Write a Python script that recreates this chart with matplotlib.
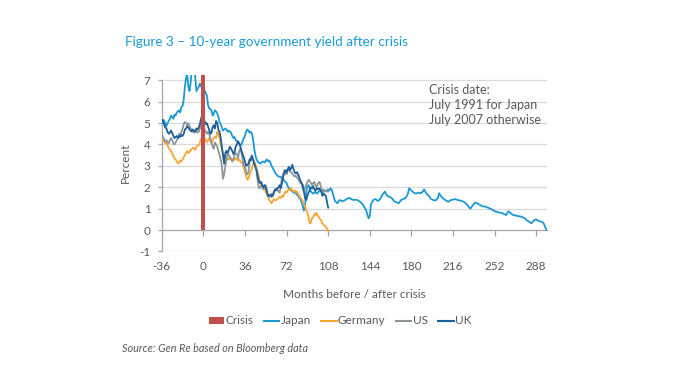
import matplotlib
matplotlib.use("Agg")
import matplotlib.pyplot as plt
from matplotlib.patches import Patch
from matplotlib.lines import Line2D

plt.rcParams['font.family'] = ['Lato', 'DejaVu Sans']

# ---------------- data (months relative to crisis, yield %) ----------------
crisis_month = [0]
crisis_value = [8.0]

japan_months = list(range(-36, 113)) + [113, 114, 115, 116, 117, 118, 120, 122, 124, 126, 128, 130, 132, 134, 136,
    138, 140, 141, 142, 143, 144, 145, 147, 149, 151, 153, 155, 157, 159, 161, 163, 165, 167, 169, 171, 173, 175,
    177, 178, 180, 182, 184, 186, 188, 190, 191, 193, 195, 197, 199, 201, 203, 204, 206, 208, 210, 212, 214, 216,
    218, 220, 222, 224, 226, 228, 230, 231, 233, 235, 237, 240, 242, 244, 246, 248, 250, 252, 254, 256, 258, 260,
    262, 264, 266, 268, 270, 272, 274, 276, 278, 280, 282, 284, 286, 288, 290, 292, 294, 295, 296, 297]
japan_values = [
    5.0, 5.15, 5.1, 5.0, 4.85, 5.0, 5.1, 5.2, 5.35, 5.3, 5.2, 5.4, 5.35, 5.5, 5.55, 5.6, 5.5, 5.75, 5.8, 6.1,
    6.7, 7.1, 7.3, 6.7, 6.5, 6.9, 7.5, 8.0, 7.8, 7.1, 6.5, 6.6, 6.7, 6.85, 6.7, 6.8,
    6.7, 6.55, 6.4, 6.3, 5.85, 5.7, 5.65, 5.6, 5.35, 5.45, 5.6, 5.55, 5.45, 5.3, 5.05,
    4.95, 4.8, 4.65, 4.7, 4.75, 4.7, 4.6, 4.65, 4.6, 4.55, 4.4, 4.3, 4.35, 4.2, 4.15, 4.1, 4.05, 3.95, 4.0,
    4.15, 4.3, 4.4, 4.6, 4.7, 4.65, 4.55, 4.6, 4.5, 4.25, 3.8, 3.5, 3.3, 3.2, 3.15, 3.1, 3.15, 3.2, 3.2, 3.15,
    3.25, 3.3, 3.2, 3.25, 3.15, 3.0, 2.9, 2.8, 2.7, 2.6, 2.55, 2.5, 2.5, 2.45, 2.5, 2.4, 2.3, 2.25, 2.2, 2.05,
    1.95, 1.9, 1.85, 1.8, 1.75, 1.75, 1.7, 1.65, 1.6, 1.5, 1.45, 1.3, 1.1, 0.9, 1.2, 1.75, 2.05, 2.1,
    1.95, 1.8, 1.75, 1.7, 1.75, 1.8, 1.7, 1.75, 1.8, 1.85, 1.8, 1.75, 1.8, 1.85, 1.8, 1.85, 1.9, 1.85, 1.95,
    1.9, 1.7,
    1.5, 1.35, 1.3, 1.25, 1.35, 1.4, 1.35, 1.38, 1.45, 1.5, 1.45, 1.4, 1.42, 1.38, 1.3,
    1.2, 1.0, 0.9, 0.7, 0.55, 0.65, 1.2, 1.4, 1.45, 1.35, 1.45, 1.65, 1.8, 1.6, 1.55, 1.5, 1.35, 1.3, 1.25, 1.4,
    1.45, 1.5, 1.7, 1.95, 1.85, 1.75, 1.7, 1.75, 1.72, 1.8, 1.9, 1.7, 1.6, 1.45, 1.4, 1.38, 1.5, 1.72, 1.55,
    1.45, 1.38, 1.32, 1.4, 1.42, 1.45, 1.4, 1.38, 1.35, 1.3, 1.2, 1.05, 1.0, 1.15, 1.28, 1.25, 1.15, 1.1, 1.1,
    1.05, 1.0, 0.95, 0.88, 0.85, 0.82, 0.8, 0.75, 0.7, 0.88, 0.78, 0.7, 0.68, 0.65, 0.64, 0.6, 0.55, 0.45, 0.38,
    0.32, 0.45, 0.5, 0.42, 0.4, 0.35, 0.25, 0.1, 0.0]

other_months = list(range(-36, 109))
germany_values = [
    4.3, 4.2, 4.15, 4.05, 4.1, 3.95, 3.85, 3.75, 3.7, 3.6, 3.45, 3.35, 3.3, 3.2, 3.1, 3.15, 3.25, 3.2, 3.3, 3.4,
    3.5, 3.6, 3.7, 3.6, 3.65, 3.75, 3.8, 3.85, 3.8, 3.75, 3.9, 3.95, 3.95, 4.1, 4.25, 4.4,
    4.5, 4.3, 4.2, 4.1, 4.2, 4.3, 4.15, 4.05, 4.2, 4.3, 4.35, 4.3, 4.6, 4.5, 4.3, 4.0, 3.8, 3.55, 3.3, 3.1,
    3.25, 3.35, 3.3, 3.4, 3.35, 3.3, 3.25, 3.3, 3.35, 3.3, 3.25, 3.3, 3.2, 3.15, 3.1, 2.9, 2.7, 2.55, 2.35, 2.4,
    2.6, 2.75, 2.9, 3.1, 3.2, 3.05, 2.85, 2.7, 2.5, 2.25, 2.1, 2.05, 2.0, 1.95, 1.75, 1.65, 1.55, 1.4, 1.35, 1.25,
    1.35, 1.45, 1.4, 1.4, 1.45, 1.5, 1.55, 1.5, 1.6, 1.55, 1.7, 1.8, 1.75, 1.85, 1.9, 1.85, 1.95, 1.85, 1.8, 1.85,
    1.75, 1.8, 1.7, 1.6, 1.5, 1.45, 1.35, 1.2, 1.1, 0.95, 0.8, 0.6, 0.3, 0.35, 0.55, 0.6, 0.75, 0.7, 0.8, 0.65,
    0.6, 0.5, 0.45, 0.3, 0.25, 0.2, 0.15, 0.05, -0.05]
us_values = [
    4.5, 4.35, 4.25, 4.15, 4.2, 4.1, 4.05, 4.2, 4.3, 4.2, 4.05, 4.0, 4.1, 4.2, 4.3, 4.5, 4.45, 4.6, 4.75, 4.95,
    5.05, 5.0, 4.9, 5.0, 4.85, 4.75, 4.7, 4.6, 4.55, 4.6, 4.65, 4.55, 4.6, 4.75, 4.9, 5.05,
    5.0, 4.7, 4.6, 4.5, 4.6, 4.5, 4.3, 4.1, 3.9, 3.8, 4.1, 4.0, 3.9, 3.7, 3.5, 3.3, 3.0, 2.4, 2.6, 3.0,
    3.3, 3.6, 3.5, 3.4, 3.3, 3.2, 3.3, 3.5, 3.6, 3.55, 3.35, 3.7, 3.8, 3.6, 3.3, 3.0, 2.95, 2.7, 2.6, 2.7,
    3.2, 3.4, 3.5, 3.3, 3.15, 3.0, 2.75, 2.3, 1.95, 2.0, 2.05, 1.95, 1.9, 2.0, 2.1, 1.8, 1.6, 1.55, 1.65, 1.7,
    1.6, 1.7, 1.85, 1.95, 1.9, 1.8, 1.75, 2.05, 2.45, 2.6, 2.8, 2.65, 2.6, 2.75, 2.9, 2.75, 2.7, 2.65, 2.55, 2.5,
    2.55, 2.45, 2.4, 2.3, 2.2, 2.15, 1.95, 1.8, 2.0, 2.1, 2.25, 2.35, 2.3, 2.2, 2.1, 2.2, 2.25, 2.1, 2.0, 2.15,
    2.25, 2.2, 1.95, 1.8, 1.9, 1.8, 1.85, 1.8, 1.8]
uk_values = [
    5.1, 5.15, 4.95, 4.8, 4.75, 4.6, 4.5, 4.55, 4.65, 4.55, 4.4, 4.3, 4.35, 4.4, 4.3, 4.4, 4.35, 4.45, 4.4, 4.5,
    4.7, 4.75, 4.85, 4.8, 4.7, 4.65, 4.6, 4.7, 4.65, 4.6, 4.75, 4.7, 4.8, 4.95, 5.2, 5.4,
    5.3, 5.1, 4.95, 5.0, 4.85, 4.7, 4.5, 4.55, 4.8, 4.9, 4.75, 5.1, 5.0, 4.7, 4.6, 4.3, 3.9, 3.5, 3.1, 3.6,
    3.7, 3.6, 3.75, 3.9, 3.8, 3.7, 3.55, 3.65, 3.9, 4.0, 4.15, 4.05, 3.9, 3.7, 3.55, 3.4, 3.2, 3.0, 3.05, 3.1,
    3.3, 3.25, 3.45, 3.3, 3.1, 2.95, 2.8, 2.5, 2.3, 2.2, 2.25, 2.1, 2.0, 2.1, 2.0, 1.8, 1.6, 1.6, 1.65, 1.55,
    1.6, 1.8, 1.9, 1.85, 1.95, 2.0, 2.1, 1.95, 2.2, 2.5, 2.65, 2.8, 2.7, 2.85, 2.95, 2.8, 2.9, 3.05, 2.85, 2.7,
    2.65, 2.7, 2.6, 2.45, 2.3, 2.2, 2.1, 1.8, 1.5, 1.4, 1.6, 1.75, 1.85, 2.0, 1.95, 2.05, 1.9, 1.85, 1.95, 1.9,
    1.95, 1.9, 1.8, 1.6, 1.7, 1.65, 1.6, 1.3, 1.05]

x_ticks = [-36, 0, 36, 72, 108, 144, 180, 216, 252, 288]
y_ticks = [-1, 0, 1, 2, 3, 4, 5, 6, 7]

# ---------------- styling ----------------
c_crisis = '#C0504D'
c_japan = '#1B9AD2'
c_germany = '#F7A533'
c_us = '#8E969C'
c_uk = '#1F5F99'
c_text = '#595959'
c_grid = '#D9D9D9'
c_axis = '#A6A6A6'

fig = plt.figure(figsize=(6.74, 3.90), dpi=100)
ax = fig.add_axes([0.240, 0.3554, 0.571, 0.4523])

ax.set_xlim(-36, 297)
ax.set_ylim(-1, 7.25)

for yv in y_ticks:
    if yv != 0:
        ax.axhline(yv, color=c_grid, lw=0.9, zorder=0)

ax.plot(japan_months, japan_values, color=c_japan, lw=1.3, zorder=3)
ax.plot(other_months, germany_values, color=c_germany, lw=1.3, zorder=4)
ax.plot(other_months, us_values, color=c_us, lw=1.3, zorder=5)
ax.plot(other_months, uk_values, color=c_uk, lw=1.3, zorder=6)
ax.bar(crisis_month, crisis_value, width=3.4, color=c_crisis, zorder=7)

for s in ['top', 'right']:
    ax.spines[s].set_visible(False)
ax.spines['left'].set_bounds(-1, 7)
ax.spines['left'].set_color(c_axis)
ax.spines['left'].set_linewidth(0.9)
ax.spines['bottom'].set_position(('data', 0))
ax.spines['bottom'].set_color(c_axis)
ax.spines['bottom'].set_linewidth(0.9)
ax.spines['bottom'].set_zorder(2)

ax.set_xticks(x_ticks)
ax.set_xticklabels([str(v) for v in x_ticks])
ax.set_yticks(y_ticks)
ax.set_yticklabels([str(v) for v in y_ticks])
ax.tick_params(axis='x', direction='out', length=4, width=0.9, color=c_axis,
               pad=18.5, labelsize=8.5, labelcolor=c_text)
ax.tick_params(axis='y', direction='out', length=3, width=0.9, color=c_axis,
               pad=5, labelsize=8.5, labelcolor=c_text)

ax.set_ylabel('Percent', color=c_text, fontsize=8.5, labelpad=6)

fig.text(354 / 674, 1 - 294 / 390, 'Months before / after crisis', ha='center', va='center',
         color=c_text, fontsize=8.5)

ax.text(0.694, 0.949, 'Crisis date:\nJuly 1991 for Japan\nJuly 2007 otherwise', transform=ax.transAxes,
        ha='left', va='top', color=c_text, fontsize=9, linespacing=1.3)

fig.text(125 / 674, 1 - 42 / 390, 'Figure 3 \u2013 10-year government yield after crisis', ha='left',
         va='center', color='#1A9BD7', fontsize=9.7)

fig.text(122 / 674, 1 - 348 / 390, 'Source: Gen Re based on Bloomberg data', ha='left', va='center',
         color=c_text, fontsize=7.8, style='italic')

handles = [Patch(facecolor=c_crisis, edgecolor='none'),
           Line2D([], [], color=c_japan, lw=1.5),
           Line2D([], [], color=c_germany, lw=1.5),
           Line2D([], [], color=c_us, lw=1.5),
           Line2D([], [], color=c_uk, lw=1.5)]
labels = ['Crisis', 'Japan', 'Germany', 'US', 'UK']
leg = fig.legend(handles, labels, loc='center', bbox_to_anchor=(340 / 674, 1 - 321 / 390), ncol=5,
                 frameon=False, fontsize=8.5, handlelength=1.3, handletextpad=0.1, columnspacing=0.9,
                 handleheight=0.6)
for t in leg.get_texts():
    t.set_color(c_text)

fig.savefig('out.png', dpi=100)
